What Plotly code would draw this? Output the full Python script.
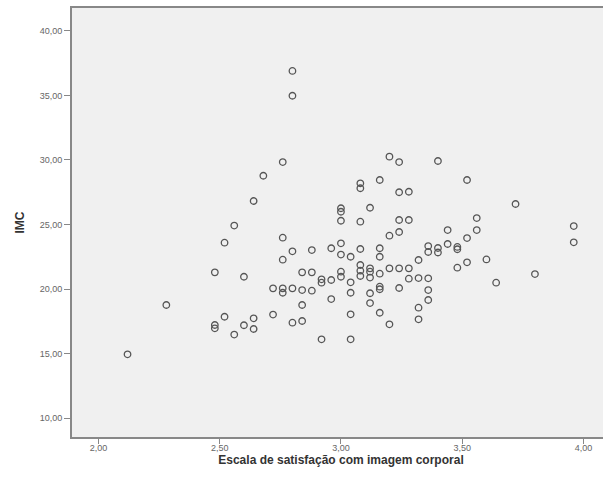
import plotly.graph_objects as go

# Escala de satisfação com imagem corporal (x) vs IMC (y)
escala = [
    2.12, 2.28,
    2.48, 2.48, 2.48,
    2.52, 2.52,
    2.56, 2.56,
    2.60, 2.60,
    2.64, 2.64, 2.64,
    2.68,
    2.72, 2.72,
    2.76, 2.76, 2.76, 2.76, 2.76,
    2.80, 2.80, 2.80, 2.80, 2.80,
    2.84, 2.84, 2.84, 2.84,
    2.88, 2.88, 2.88,
    2.92, 2.92, 2.92,
    2.96, 2.96, 2.96,
    3.00, 3.00, 3.00, 3.00, 3.00, 3.00, 3.00,
    3.04, 3.04, 3.04, 3.04, 3.04,
    3.08, 3.08, 3.08, 3.08, 3.08, 3.08, 3.08,
    3.12, 3.12, 3.12, 3.12, 3.12, 3.12,
    3.16, 3.16, 3.16, 3.16, 3.16, 3.16, 3.16,
    3.20, 3.20, 3.20, 3.20,
    3.24, 3.24, 3.24, 3.24, 3.24, 3.24,
    3.28, 3.28, 3.28, 3.28,
    3.32, 3.32, 3.32, 3.32,
    3.36, 3.36, 3.36, 3.36, 3.36,
    3.40, 3.40, 3.40,
    3.44, 3.44,
    3.48, 3.48, 3.48,
    3.52, 3.52, 3.52,
    3.56, 3.56,
    3.60,
    3.64,
    3.72,
    3.80,
    3.96, 3.96,
]

imc = [
    14.94, 18.76,
    21.29, 17.21, 16.95,
    23.59, 17.85,
    24.92, 16.47,
    20.95, 17.19,
    26.82, 17.73, 16.90,
    28.78,
    20.05, 18.02,
    29.84, 23.98, 22.27, 20.05, 19.71,
    36.90, 34.98, 22.92, 20.05, 17.39,
    21.29, 19.92, 18.76, 17.52,
    23.02, 21.29, 19.87,
    20.75, 20.49, 16.10,
    23.16, 20.70, 19.22,
    26.26, 25.99, 25.29, 23.54, 22.67, 21.34, 20.95,
    22.50, 20.52, 19.71, 18.04, 16.10,
    28.19, 27.81, 25.22, 23.10, 21.86, 21.42, 21.01,
    26.30, 21.60, 21.34, 20.89, 19.67, 18.91,
    28.45, 23.16, 22.50, 21.19, 20.18, 19.98, 18.16,
    30.26, 24.13, 21.60, 17.26,
    29.84, 27.50, 25.35, 24.42, 21.60, 20.08,
    27.54, 25.35, 21.60, 20.80,
    22.25, 20.85, 18.55, 17.65,
    23.33, 22.87, 20.83, 19.92, 19.15,
    29.92, 23.18, 22.83,
    24.57, 23.49,
    23.26, 23.08, 21.65,
    28.45, 23.95, 22.07,
    25.50, 24.57,
    22.29,
    20.49,
    26.59,
    21.16,
    24.88, 23.62,
]

x_ticks = [2.0, 2.5, 3.0, 3.5, 4.0]
y_ticks = [10, 15, 20, 25, 30, 35, 40]

fig = go.Figure(
    go.Scatter(
        x=escala,
        y=imc,
        mode="markers",
        marker=dict(
            symbol="circle-open",
            size=6.5,
            color="#555555",
            line=dict(width=1.3, color="#555555"),
        ),
        hoverinfo="x+y",
    )
)

fig.update_layout(
    width=610,
    height=486,
    margin=dict(l=72, r=0, t=8, b=49),
    paper_bgcolor="white",
    plot_bgcolor="#f0f0f0",
    separators=",.",
    showlegend=False,
    font=dict(family="Liberation Sans, Arial, sans-serif", size=9, color="#555555"),
)

fig.update_xaxes(
    range=[1.891, 4.1095],
    tickvals=x_ticks,
    tickformat=".2f",
    ticks="outside",
    ticklen=5,
    tickwidth=1,
    tickcolor="#888888",
    showline=True,
    linecolor="#888888",
    linewidth=2,
    mirror=True,
    showgrid=False,
    zeroline=False,
    automargin=False,
    ticklabelstandoff=-4,
    tickfont=dict(size=9, color="#666666"),
    title=dict(
        text="<b>Escala de satisfação com imagem corporal</b>",
        font=dict(size=12, color="#333333", family="Liberation Sans, Arial, sans-serif"),
        standoff=3,
    ),
)

fig.update_yaxes(
    range=[8.53, 41.78],
    tickvals=y_ticks,
    tickformat=".2f",
    ticks="outside",
    ticklen=6,
    tickwidth=1,
    tickcolor="#888888",
    showline=True,
    linecolor="#888888",
    linewidth=2,
    showgrid=False,
    zeroline=False,
    automargin=False,
    tickfont=dict(size=9, color="#666666"),
    title=dict(
        text="<b>IMC</b>",
        font=dict(size=12, color="#333333", family="Liberation Sans, Arial, sans-serif"),
        standoff=12,
    ),
)

fig.write_html(
    "out.html",
    config={"displayModeBar": False},
    post_script="document.body.style.margin='0';document.body.style.overflow='hidden';",
)
